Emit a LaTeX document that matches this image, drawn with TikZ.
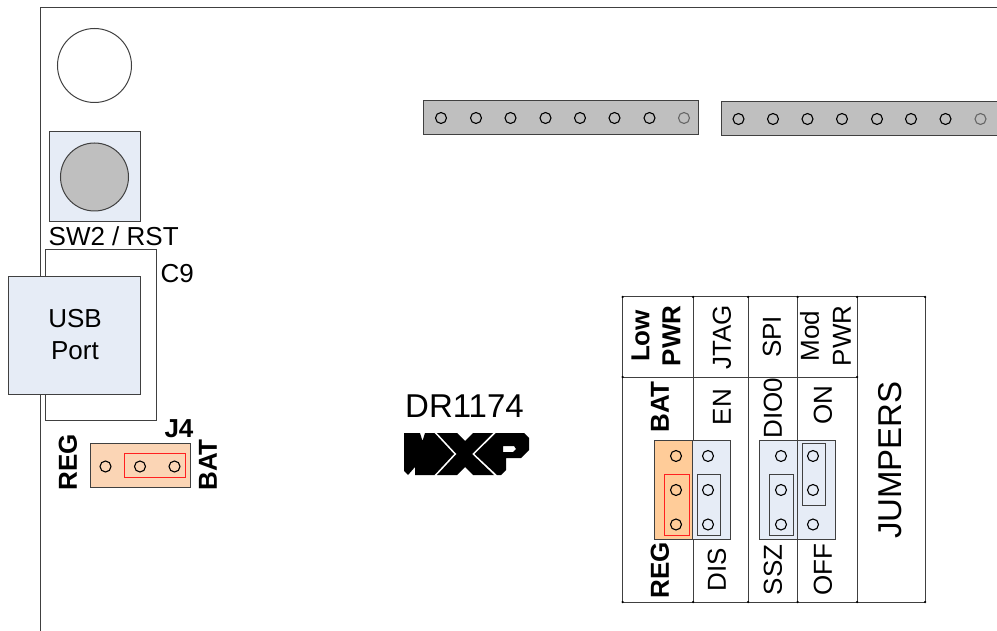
\documentclass[tikz,border=0pt]{standalone}
\usepackage{fontspec}
\setmainfont{Liberation Sans}
\definecolor{ln}{HTML}{404040}
\definecolor{bluef}{HTML}{E6ECF6}
\definecolor{greyf}{HTML}{BFBFBF}
\definecolor{orangef}{HTML}{FFCC99}
\definecolor{peachf}{HTML}{FBD5B5}
\definecolor{redl}{HTML}{FF2020}
\tikzset{
 wire/.style={draw=ln,line width=1pt},
 box/.style={draw=ln,line width=1pt},
 hole/.style={circle,draw=black,line width=1.1pt,minimum size=11pt,inner sep=0pt,fill=none},
 fainthole/.style={hole,draw=ln!80},
 lbl/.style={inner sep=0pt,font=\fontsize{26}{32}\selectfont,text=black},
 blbl/.style={lbl,font=\fontsize{26}{30}\selectfont\bfseries},
 vlbl/.style={lbl,rotate=90,align=center,font=\fontsize{26}{32}\selectfont},
 vblbl/.style={lbl,rotate=90,align=center,font=\fontsize{26}{31}\selectfont\bfseries},
 dot/.style={circle,fill=black,inner sep=0pt,minimum size=2.5pt},
}
\begin{document}
\begin{tikzpicture}[x=1pt,y=-1pt]
\useasboundingbox (0,0) rectangle (997,631);
% outer board edge
\draw[wire] (997,7.5) -- (40.5,7.5) -- (40.5,631);
% mounting hole and reset switch
\node[circle,draw=ln,line width=1pt,minimum size=74pt,inner sep=0pt,fill=white] (mount) at (94.5,65.5) {};
\path[box,fill=bluef] (49.5,131.5) rectangle (140,222);
\node[circle,draw=ln,line width=1pt,minimum size=68pt,inner sep=0pt,fill=greyf] (sw) at (94.5,177) {};
\node[lbl,anchor=west] (swl) at (48.5,236) {SW2 / RST};
% USB
\path[box,fill=white] (45.5,250) rectangle (156,420);
\path[box,fill=bluef] (8.5,276.5) rectangle (140,394.5);
\node[lbl,align=center] (usb) at (75,335) {USB\\Port};
\node[lbl,anchor=west] (c9) at (160.5,274) {C9};
% J4
\path[box,fill=peachf] (90,443) rectangle (190,487);
\draw[redl,line width=1pt] (124.5,453.5) rectangle (185.5,477);
\foreach \x/\n in {105.5/a,140/b,174.5/c} \node[hole] (j\n) at (\x,466.5) {};
\node[blbl,anchor=center] (j4) at (179,429) {J4};
\node[vblbl] (regl) at (68,462.5) {REG};
\node[vblbl] (batl) at (208,465) {BAT};
% headers
\path[box,fill=greyf] (423.5,101) rectangle (698,135);
\foreach \x in {441,476,510.5,545.5,580,614.5,649.5} \node[hole] at (\x,118) {};
\node[fainthole] at (684,118) {};
\path[box,fill=greyf] (721,102) rectangle (1000,136);
\foreach \x in {738.5,773,807.5,842,877,911,945.5} \node[hole] at (\x,119) {};
\node[fainthole] at (980.5,119) {};
% title
\node[lbl,font=\fontsize{33}{35}\selectfont] (dr) at (464.5,406.5) {DR1174};
% logo
\fill[black] (404,433) -- (420,433) -- (422.5,441) -- (425,433) -- (434.5,433) -- (454,454) -- (434.5,475) -- (415,475) -- (415,467) -- (408,475) -- (404,471) -- cycle;
\fill[black] (437,433) -- (457,433) -- (465,441) -- (473,433) -- (493,433) -- (472,454) -- (494,475) -- (473,475) -- (465,467) -- (457,475) -- (437,475) -- (456.5,454) -- cycle;
\fill[black,even odd rule] (496,433) -- (524,433) -- (529,438) -- (529,450) -- (521,458) -- (506,458) -- (506,470) -- (501,475) -- (497,475) -- (474.5,454) -- cycle (503,446) -- (514,446) -- (516,449) -- (513,452) -- (503,452) -- cycle;
% jumper table
\coordinate (t1) at (622.5,297); \coordinate (t2) at (693,297); \coordinate (t3) at (748,297); \coordinate (t4) at (797.5,297); \coordinate (t5) at (857,297); \coordinate (t6) at (925,297);
\coordinate (m1) at (622.5,377); \coordinate (m5) at (857,377);
\coordinate (b1) at (622.5,602); \coordinate (b2) at (693,602); \coordinate (b3) at (748,602); \coordinate (b4) at (797.5,602); \coordinate (b5) at (857,602); \coordinate (b6) at (925,602);
\draw[wire] (t1) -- (t6) (m1) -- (m5) (b1) -- (b6);
\foreach \i in {1,...,6} \draw[wire] (t\i) -- (b\i);
\foreach \c in {t1,t2,t3,t4,t5,t6,m1,m5,b1,b2,b3,b4,b5,b6} \node[dot] at (\c) {};
% jumper blocks
\path[box,fill=orangef] (654.5,440) rectangle (692.5,539);
\path[box,fill=bluef] (692.5,440) rectangle (730,539);
\path[box,fill=bluef] (759.5,440) rectangle (797.5,539);
\path[box,fill=bluef] (797.5,440) rectangle (835,539);
\draw[redl,line width=1pt] (664.5,474) rectangle (689,535);
\draw[wire] (697,474) rectangle (720.5,535);
\draw[wire] (769,474) rectangle (793,535);
\draw[wire] (802,443.5) rectangle (825,505);
\foreach \x in {676,708,781,813} \foreach \y in {456,490,524.5} \node[hole] at (\x,\y) {};
% labels
\node[vblbl] at (656,336) {Low\\PWR};
\node[vlbl] at (722,337.5) {JTAG};
\node[vlbl] at (772,337) {SPI};
\node[vlbl] at (825.5,336) {Mod\\PWR};
\node[vblbl] at (660,407) {BAT};
\node[vlbl] at (722,407) {EN};
\node[vlbl] at (773,408) {DIO0};
\node[vlbl] at (823,405) {ON};
\node[vblbl] at (660,570) {REG};
\node[vlbl] at (717,570) {DIS};
\node[vlbl] at (773,570) {SSZ};
\node[vlbl] at (823,570) {OFF};
\node[vlbl,font=\fontsize{33}{35}\selectfont] at (890,460) {JUMPERS};
\end{tikzpicture}
\end{document}
